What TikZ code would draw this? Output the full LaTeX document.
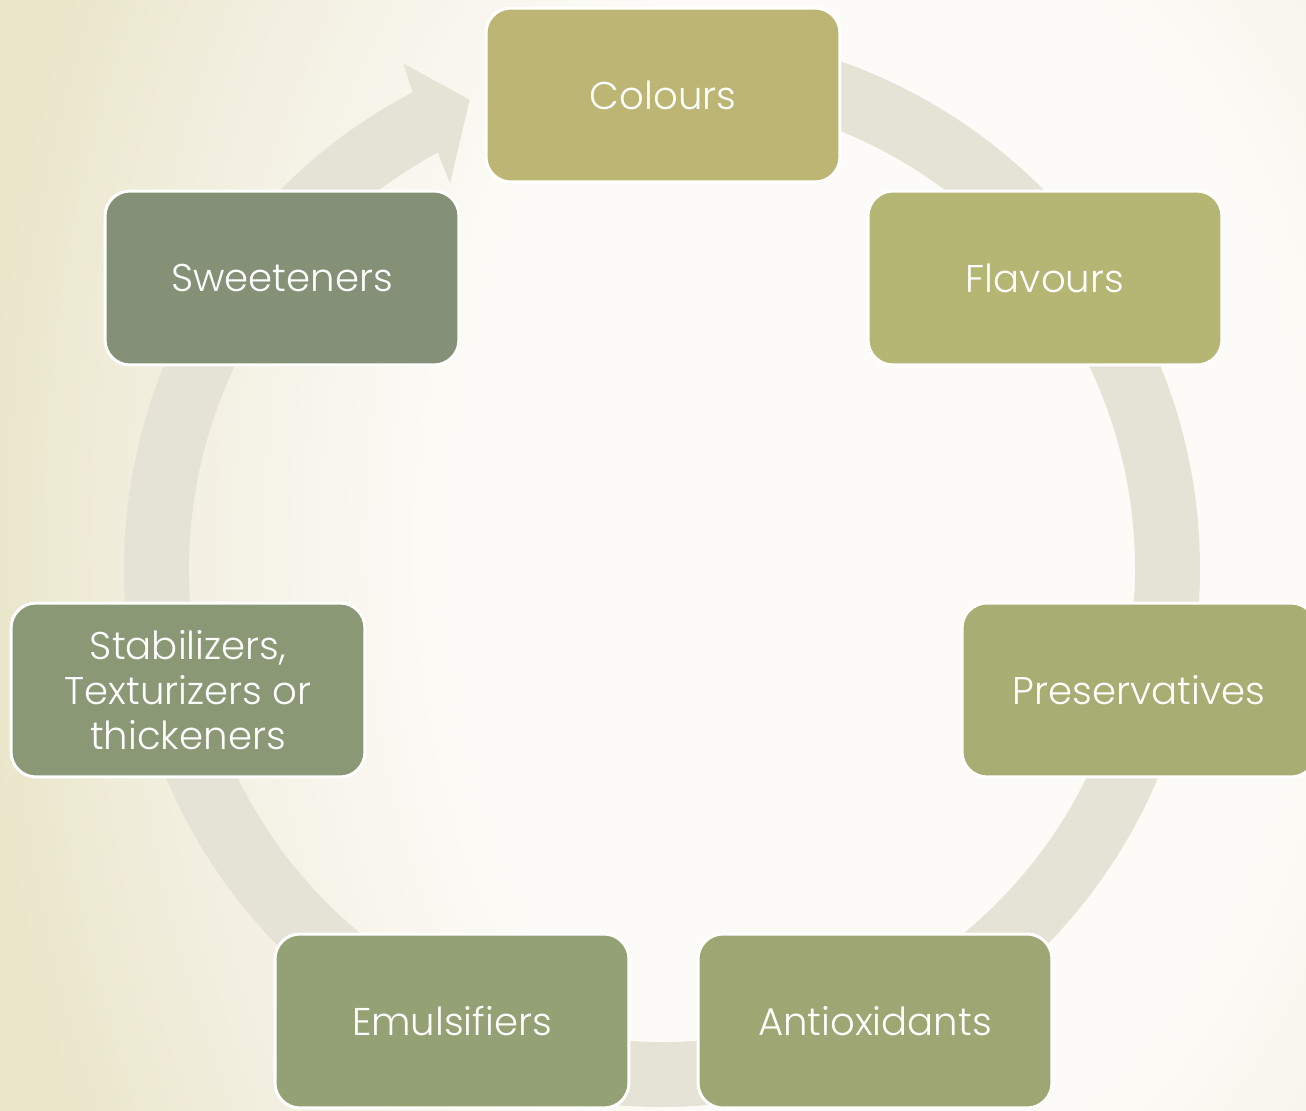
\documentclass[tikz,border=0pt]{standalone}
\usepackage{fontspec}
\setmainfont{Poppins Light}
\usetikzlibrary{calc}

% --- colours picked from the slide ---
\definecolor{bgWhite}{HTML}{FCFBF7}
\definecolor{bgMidTone}{HTML}{F2EFE0}
\definecolor{bgLeft}{HTML}{EAE6CA}
\definecolor{ringGrey}{HTML}{E5E3D5}
\definecolor{colColours}{HTML}{BDB573}
\definecolor{colFlavours}{HTML}{B5B674}
\definecolor{colPreserv}{HTML}{A8AD73}
\definecolor{colAntiox}{HTML}{9EA773}
\definecolor{colEmuls}{HTML}{94A174}
\definecolor{colStabil}{HTML}{8A9875}
\definecolor{colSweet}{HTML}{849176}

% --- soft light in the middle of the slide ---
\pgfdeclareradialshading{bgGlow}{\pgfpoint{0bp}{0bp}}{%
  color(0bp)=(bgWhite); color(12bp)=(bgWhite); color(20bp)=(bgMidTone);
  color(25bp)=(bgLeft); color(50bp)=(bgLeft)}

\tikzset{
  additive/.style={draw=white, line width=1.7pt, rounded corners=0.5cm,
    minimum width=7.08cm, minimum height=3.48cm, text=white, align=center,
    font=\fontsize{22}{25.5}\selectfont}
}

\begin{document}
\begin{tikzpicture}[x=0.02cm, y=0.02cm]

% --- Picture size ---
\useasboundingbox (0,0) rectangle (1306,1110);
\clip (0,0) rectangle (1306,1110);

% --- Background ---
\shade[shading=bgGlow] (-20,-740) rectangle (1780,1860);

% --- Ring with its arrow head ---
\def\rOut{538}
\def\rIn{473}
\begin{scope}[shift={(662,541)}]
  \fill[ringGrey] (90:\rOut) arc[start angle=90, end angle=-242.4, radius=\rOut]
    -- (-242.9:568) -- (-247.7:507) -- (-241.2:440) -- (-241.7:\rIn)
    arc[start angle=-241.7, end angle=90, radius=\rIn] -- cycle;
\end{scope}

% --- The seven kinds of additive ---
\foreach \nm/\px/\py/\col/\txt in {
    colours/663/1015/colColours/Colours,
    flavours/1045/832/colFlavours/Flavours,
    preserv/1139/420/colPreserv/Preservatives,
    antiox/875/89/colAntiox/Antioxidants,
    emuls/452/89/colEmuls/Emulsifiers,
    stabil/188/420/colStabil/{Stabilizers,\\Texturizers or\\thickeners},
    sweet/282/832/colSweet/Sweeteners} {
  \node[additive, fill=\col] (\nm) at (\px,\py) {\txt};
}

\end{tikzpicture}
\end{document}
